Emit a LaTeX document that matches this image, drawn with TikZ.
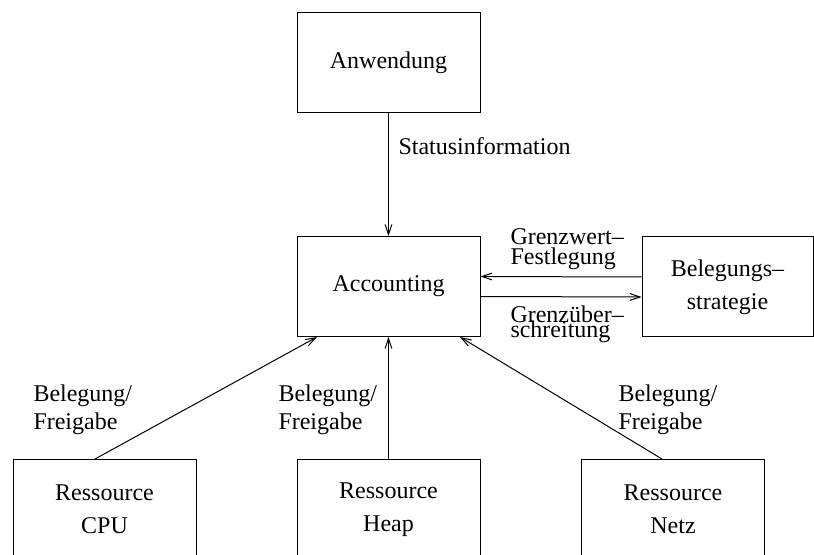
\documentclass[tikz,border=0pt]{standalone}
\usepackage{fontspec}
\setmainfont{Liberation Serif}
\usetikzlibrary{arrows.meta}

\begin{document}
\begin{tikzpicture}[
    x=0.5pt, y=-0.5pt,
    >={Straight Barb[length=5pt, width=3.4pt]},
    line width=0.5pt,
    box/.style={draw, minimum width=91.5pt, minimum height=50pt, align=center, inner sep=0pt, font=\fontsize{12}{16.5}\selectfont},
    lbl/.style={inner sep=0pt, align=left, anchor=north west, font={\fontsize{12}{#1}\selectfont\lineskiplimit=-100pt}},
    lbl/.default=14,
    arrow/.style={->},
]
    \useasboundingbox (0,0) rectangle (814,555);
    \clip (0,0) rectangle (814,555);

    \node[box] (anw) at (388.5,63) {Anwendung};
    \node[box] (acc) at (388.5,286.5) {Accounting};
    \node[box, minimum width=85.5pt] (strat) at (727.5,287) {Belegungs--\\strategie};
    \node[box] (cpu) at (104.5,509.5) {Ressource\\CPU};
    \node[box] (heap) at (388.5,509.5) {Ressource\\Heap};
    \node[box] (netz) at (673,509.5) {Ressource\\Netz};

    \draw[arrow] (anw) -- (acc);
    \draw[arrow] ([yshift=5pt]strat.west) -- ([yshift=5pt]acc.east);
    \draw[arrow] ([yshift=-5pt]acc.east) -- ([yshift=-5pt]strat.west);
    \draw[arrow] ([xshift=-4.75pt]cpu.north) -- ([xshift=-35.75pt]acc.south);
    \draw[arrow] (heap) -- (acc);
    \draw[arrow] ([xshift=-5.5pt]netz.north) -- ([xshift=35.75pt]acc.south);

    \node[lbl, anchor=base west] (status) at (398,155) {Statusinformation};
    \node[lbl=10] (gwert) at (510,228) {Grenzwert--\\Festlegung};
    \node[lbl=7.5] (guber) at (510,305) {Grenzüber--\\schreitung};
    \node[lbl] (beleg1) at (33,384) {Belegung/\\Freigabe};
    \node[lbl] (beleg2) at (278,384) {Belegung/\\Freigabe};
    \node[lbl] (beleg3) at (618,384) {Belegung/\\Freigabe};
\end{tikzpicture}
\end{document}
